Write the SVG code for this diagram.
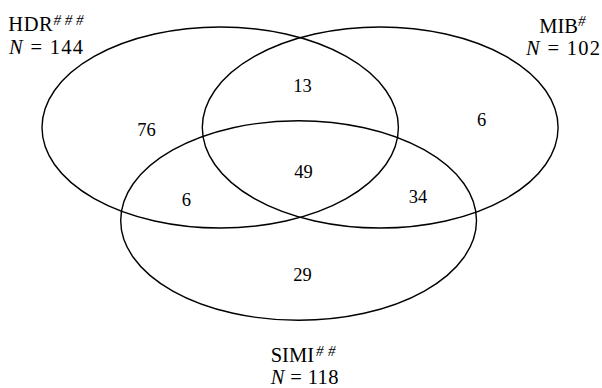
<svg xmlns="http://www.w3.org/2000/svg" width="602" height="388" viewBox="0 0 602 388">
  <style>
    .set { fill: none; stroke: #000; stroke-width: 1.4; }
    text { font-family: "Liberation Serif", "Times New Roman", serif; fill: #000; }
    .lbl { font-size: 20.5px; }
    .sup { font-size: 15px; font-style: italic; }
    .num { font-size: 18.5px; text-anchor: middle; }
    .it { font-style: italic; }
  </style>
  <rect width="602" height="388" fill="#fff"/>
  <g id="set-HDR">
    <ellipse class="set" cx="220.2" cy="127.5" rx="178.2" ry="100.5"/>
    <text class="lbl" x="8.3" y="31" textLength="44.5" lengthAdjust="spacing">HDR</text>
    <text class="sup" x="53.5" y="24.5" textLength="30" lengthAdjust="spacing">###</text>
    <text class="lbl" x="9" y="54.3" textLength="74" lengthAdjust="spacing"><tspan class="it">N</tspan> = 144</text>
  </g>
  <g id="set-MIB">
    <ellipse class="set" cx="380.2" cy="127.5" rx="177.9" ry="100.5"/>
    <text class="lbl" x="539.3" y="32.5">MIB</text>
    <text class="sup" x="578" y="25.5">#</text>
    <text class="lbl" x="526" y="55" textLength="74" lengthAdjust="spacing"><tspan class="it">N</tspan> = 102</text>
  </g>
  <g id="set-SIMI">
    <ellipse class="set" cx="298.6" cy="220.5" rx="177.9" ry="99.8"/>
    <text class="lbl" x="270.7" y="362">SIMI</text>
    <text class="sup" x="316" y="356" textLength="19.5" lengthAdjust="spacing">##</text>
    <text class="lbl" x="270.7" y="383.5" textLength="67.7" lengthAdjust="spacing"><tspan class="it">N</tspan> = 118</text>
  </g>
  <g id="counts">
    <text class="num" x="302.5" y="92.3">13</text>
    <text class="num" x="146.6" y="136">76</text>
    <text class="num" x="481.5" y="126">6</text>
    <text class="num" x="303.6" y="178">49</text>
    <text class="num" x="186.3" y="205.5">6</text>
    <text class="num" x="418" y="202.9">34</text>
    <text class="num" x="302.5" y="281.4">29</text>
  </g>
</svg>
